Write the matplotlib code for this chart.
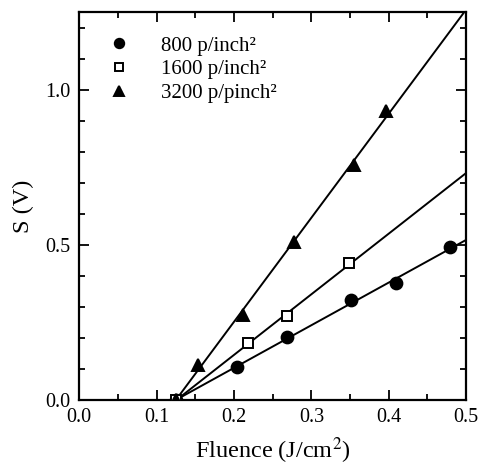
import matplotlib
matplotlib.use('Agg')
import numpy as np
import matplotlib.pyplot as plt
from matplotlib.ticker import MultipleLocator

# fluence (J/cm^2) vs signal S (V) for three pixel densities
x800 = [0.125, 0.204, 0.269, 0.351, 0.410, 0.479]
y800 = [0.0, 0.107, 0.202, 0.322, 0.376, 0.493]
x1600 = [0.125, 0.218, 0.269, 0.349]
y1600 = [0.0, 0.185, 0.271, 0.441]
x3200 = [0.125, 0.153, 0.212, 0.278, 0.355, 0.397]
y3200 = [0.0, 0.113, 0.274, 0.511, 0.758, 0.930]

labels = ['800 p/inch²', '1600 p/inch²', '3200 p/pinch²']

plt.rcParams['font.family'] = ['Liberation Serif', 'DejaVu Serif']
plt.rcParams['mathtext.fontset'] = 'stix'

fig = plt.figure(figsize=(4.8, 4.68), dpi=100)
ax = fig.add_axes([0.165, 0.145, 0.806, 0.829])

xfit = np.linspace(0.125, 0.5, 50)
series = [(x800, y800, 'o', 'k'), (x1600, y1600, 's', 'white'), (x3200, y3200, '^', 'k')]
for (xs, ys, m, fc), lab in zip(series, labels):
    p = np.polyfit(xs, ys, 1)
    ax.plot(xfit, np.polyval(p, xfit), color='k', lw=1.4, zorder=2)
    ax.plot(xs, ys, m, ms=8.5 if m != 's' else 7.5, mfc=fc, mec='k', mew=1.4,
            ls='none', label=lab, zorder=3)

ax.set_xlim(0, 0.5)
ax.set_ylim(0, 1.25)
ax.xaxis.set_major_locator(MultipleLocator(0.1))
ax.xaxis.set_minor_locator(MultipleLocator(0.05))
ax.yaxis.set_major_locator(MultipleLocator(0.5))
ax.yaxis.set_minor_locator(MultipleLocator(0.1))
ax.tick_params(which='both', direction='in', top=True, right=True, width=1.3, labelsize=14.5, pad=6)
ax.tick_params(which='major', length=7)
ax.tick_params(which='minor', length=4)
for s in ax.spines.values():
    s.set_linewidth(1.6)

ax.set_xlabel('Fluence (J/cm$^2$)', fontsize=17.5, labelpad=6)
ax.set_ylabel('S (V)', fontsize=17.5, labelpad=8)

ax.legend(loc='upper left', bbox_to_anchor=(-0.02, 1.008), frameon=False, fontsize=15,
          handletextpad=1.0, borderaxespad=0.9, labelspacing=0.2, markerscale=0.8)

fig.savefig('out.png', dpi=100)
